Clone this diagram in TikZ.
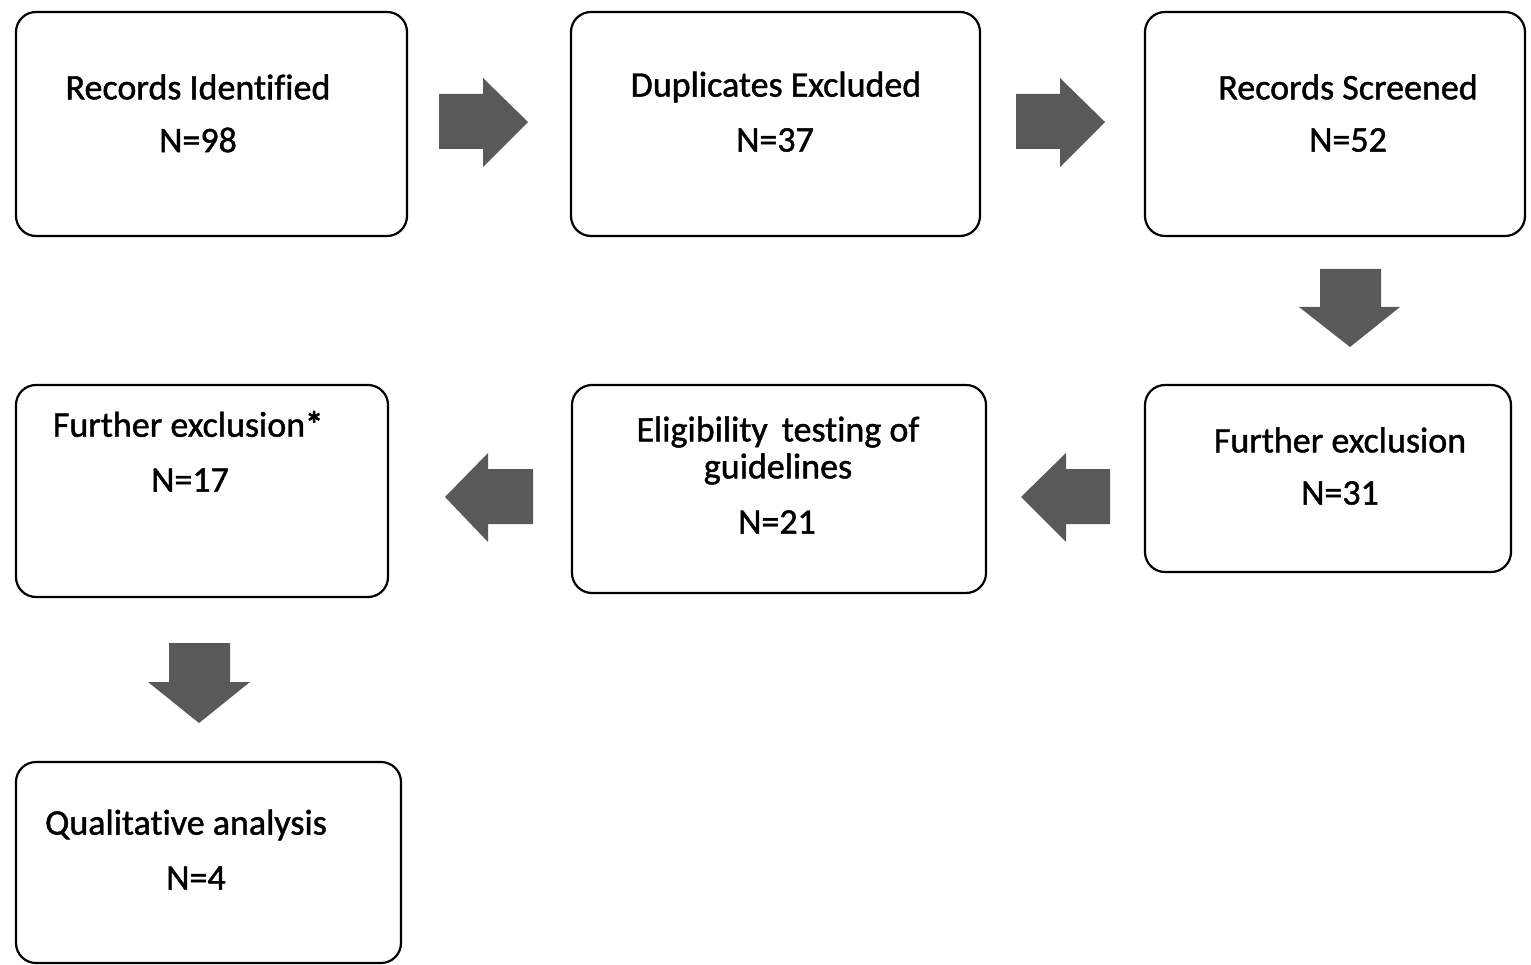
\documentclass[tikz,border=0pt]{standalone}
\usepackage{fontspec}
\setmainfont{Carlito}[Ligatures=NoCommon,FakeBold=1.2]
\definecolor{arrowgray}{HTML}{595959}
\begin{document}
\begin{tikzpicture}[x=1pt,y=-1pt,
  box/.style={draw=black,line width=2.2pt,rounded corners=20pt},
  lbl/.style={inner sep=0pt,font=\fontsize{36}{43}\selectfont,text=black},
  blockarrow/.style={fill=arrowgray,draw=none}]
\useasboundingbox (0,0) rectangle (1531,965);
\fill[white] (0,0) rectangle (1531,965);
% boxes
\draw[box] (16,12) rectangle (407,236);
\node (b1) at (211.5,124) {};
\draw[box] (571,12) rectangle (980,236);
\node (b2) at (775.5,124) {};
\draw[box] (1145,12) rectangle (1525,236);
\node (b3) at (1335,124) {};
\draw[box] (1145,385) rectangle (1511,572);
\node (b4) at (1328,478) {};
\draw[box] (572,385) rectangle (986,593);
\node (b5) at (779,489) {};
\draw[box] (16,385) rectangle (388,597);
\node (b6) at (202,491) {};
\draw[box] (16,762) rectangle (401,963);
\node (b7) at (208,862) {};
% texts
\node[lbl] (t1a) at (198,87) {Records Identified};
\node[lbl] (t1b) at (198,140) {N=98};
\node[lbl] (t2a) at (776,87) {Duplicates Excluded};
\node[lbl] (t2b) at (775,140) {N=37};
\node[lbl] (t3a) at (1348,87) {Records Screened};
\node[lbl] (t3b) at (1348,140) {N=52};
\node[lbl] (t4a) at (1340,440) {Further exclusion};
\node[lbl] (t4b) at (1340,493) {N=31};
\node[lbl] (t5a) at (778,432) {Eligibility\, testing of};
\node[lbl] (t5b) at (778,469) {guidelines};
\node[lbl] (t5c) at (777,522) {N=21};
\node[lbl] (t6a) at (188,424) {Further exclusion\textbf{*}};
\node[lbl] (t6b) at (190,480) {N=17};
\node[lbl] (t7a) at (186,825) {Qualitative analysis};
\node[lbl] (t7b) at (196,878) {N=4};
% block arrows
\fill[blockarrow] (439,94) -- (483,94) -- (483,78) -- (528,122) -- (483,167) -- (483,149) -- (439,149) -- cycle;
\fill[blockarrow] (1016,94) -- (1060,94) -- (1060,78) -- (1105,122) -- (1060,167) -- (1060,149) -- (1016,149) -- cycle;
\fill[blockarrow] (1320,269) -- (1381,269) -- (1381,307) -- (1400,307) -- (1350,347) -- (1299,307) -- (1320,307) -- cycle;
\fill[blockarrow] (1110,469) -- (1066,469) -- (1066,453) -- (1021,497) -- (1066,542) -- (1066,524) -- (1110,524) -- cycle;
\fill[blockarrow] (533,469) -- (488,469) -- (488,453) -- (445,497) -- (488,542) -- (488,524) -- (533,524) -- cycle;
\fill[blockarrow] (169,643) -- (230,643) -- (230,682) -- (250,682) -- (199,723) -- (148,682) -- (169,682) -- cycle;
\end{tikzpicture}
\end{document}
